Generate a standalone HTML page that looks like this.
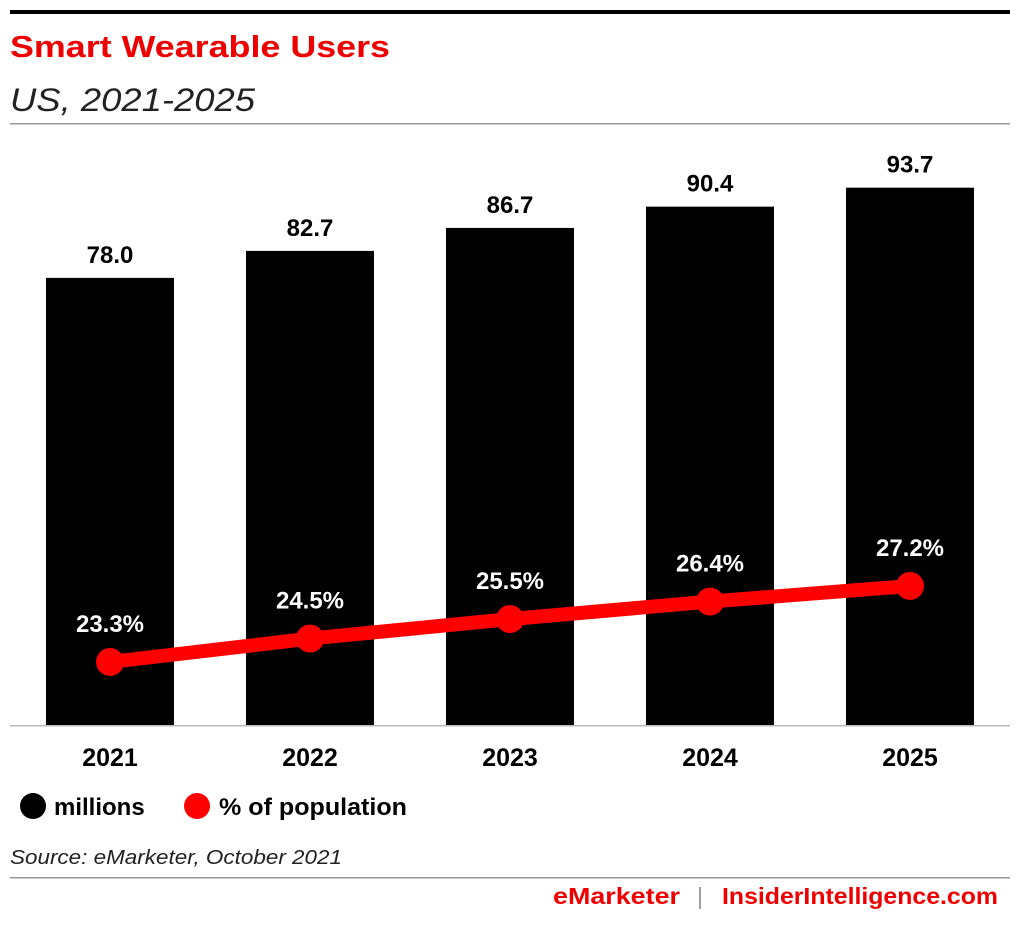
<!DOCTYPE html>
<html><head><meta charset="utf-8"><style>
body{margin:0;background:#fff;font-family:"Liberation Sans",sans-serif;}
svg text{font-family:"Liberation Sans",sans-serif;}
</style></head><body>
<svg width="1020" height="920" xmlns="http://www.w3.org/2000/svg">
<rect x="10" y="10" width="1000" height="4" fill="#000"/>
<text x="10" y="57" font-size="31" font-weight="bold" fill="#e00" textLength="380" lengthAdjust="spacingAndGlyphs">Smart Wearable Users</text>
<text x="10" y="111" font-size="32" font-style="italic" fill="#222" textLength="245" lengthAdjust="spacingAndGlyphs">US, 2021-2025</text>
<rect x="10" y="123" width="1000" height="1.5" fill="#999"/>
<g id="bars"></g>
<rect x="10" y="725" width="1000" height="1.5" fill="#bbb"/>
<g id="line"></g>
<g>
<circle cx="33" cy="806" r="13" fill="#000"/>
<text x="54" y="815" font-size="24" font-weight="bold">millions</text>
<circle cx="197" cy="806" r="13" fill="#f00"/>
<text x="219" y="815" font-size="24" font-weight="bold" textLength="188" lengthAdjust="spacingAndGlyphs">% of population</text>
</g>
<text x="10" y="864" font-size="20" font-style="italic" fill="#222" textLength="332" lengthAdjust="spacingAndGlyphs">Source: eMarketer, October 2021</text>
<rect x="10" y="877" width="1000" height="1.5" fill="#999"/>
<text x="553" y="904" font-size="23" font-weight="bold" fill="#e00" textLength="127" lengthAdjust="spacingAndGlyphs">eMarketer</text>
<text x="697" y="904" font-size="23" fill="#999">|</text>
<text x="722" y="904" font-size="23" font-weight="bold" fill="#e00" textLength="276" lengthAdjust="spacingAndGlyphs">InsiderIntelligence.com</text>
</svg>
<script>
const years=["2021","2022","2023","2024","2025"];
const millions=[78.0,82.7,86.7,90.4,93.7];
const pct=[23.3,24.5,25.5,26.4,27.2];
const NS="http://www.w3.org/2000/svg";
function xC(i){return 110+i*200;}
function yBar(v){return 726-v*5.745;}
function yPct(p){return 1116.1-p*19.49;}
function mk(t,a,parent){const e=document.createElementNS(NS,t);for(const k in a)e.setAttribute(k,a[k]);parent.appendChild(e);return e;}
const bg=document.getElementById('bars'),lg=document.getElementById('line');
years.forEach((y,i)=>{
 const r=mk('rect',{x:xC(i)-64,y:yBar(millions[i]),width:128,height:726-yBar(millions[i]),fill:'#000'},bg);
 
 
 const t=mk('text',{x:xC(i),y:yBar(millions[i])-15,'font-size':24,'font-weight':'bold','text-anchor':'middle'},bg);
 t.textContent=millions[i].toFixed(1);
 
 
 const yl=mk('text',{x:xC(i),y:766,'font-size':25,'font-weight':'bold','text-anchor':'middle'},bg);
 yl.textContent=y;
 
 
});
const pl=mk('polyline',{points:pct.map((p,i)=>xC(i)+','+yPct(p)).join(' '),fill:'none',stroke:'#f00','stroke-width':14},lg);


pct.forEach((p,i)=>{
 const c=mk('circle',{cx:xC(i),cy:yPct(p),r:14,fill:'#f00'},lg);
 
 
 const t=mk('text',{x:xC(i),y:yPct(p)-30,'font-size':24,'font-weight':'bold','text-anchor':'middle',fill:'#fff'},lg);
 t.textContent=p.toFixed(1)+'%';
 
 
});
</script>
</body></html>
